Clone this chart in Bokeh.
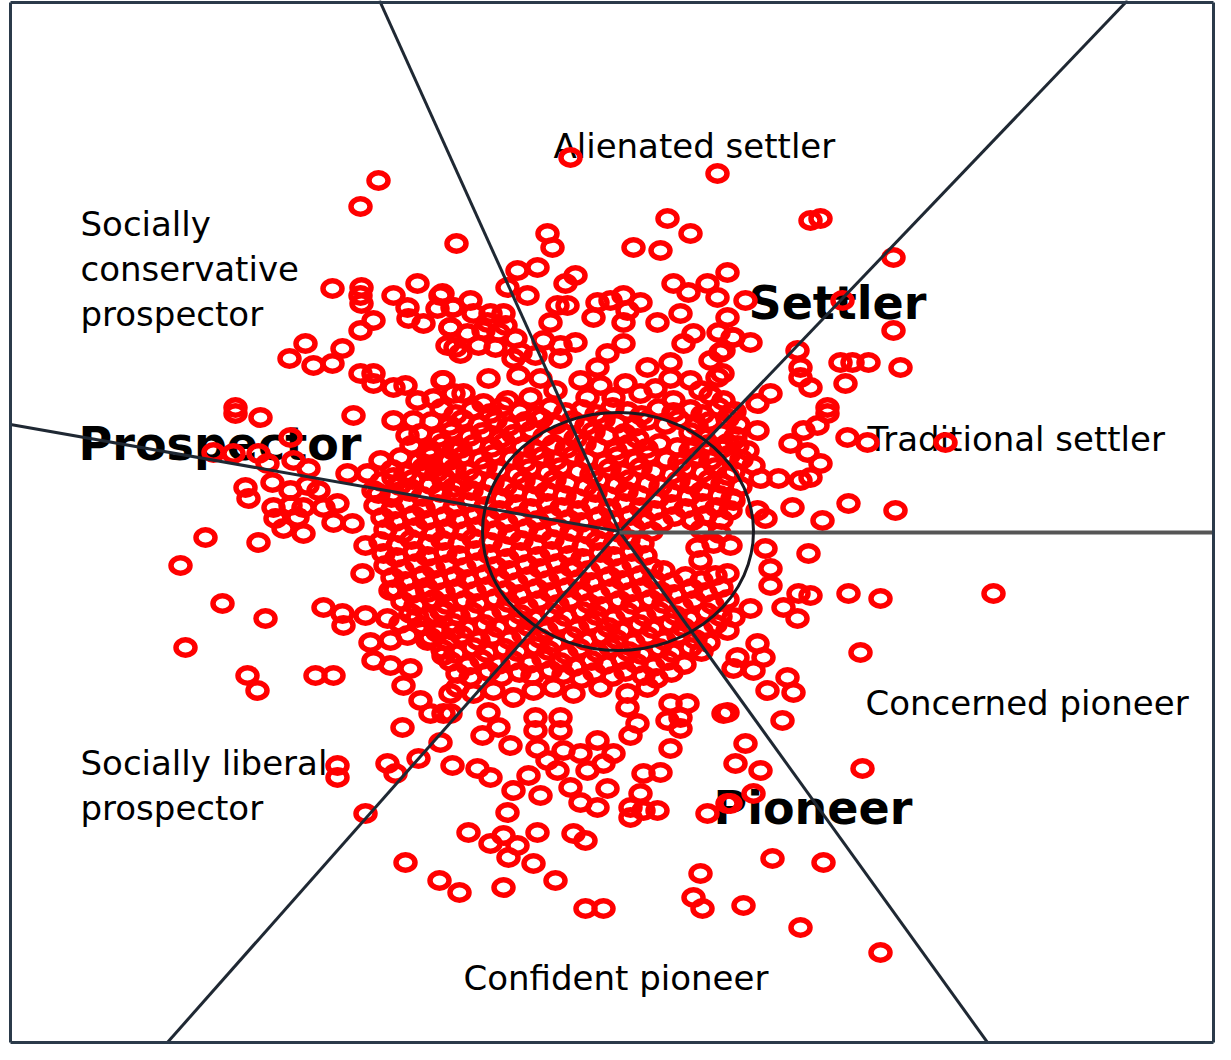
from bokeh.plotting import figure
from bokeh.models import Range1d
from bokeh.embed import file_html
from bokeh.resources import INLINE
from bokeh.core.properties import value

# ---------------- data (image-pixel coordinates, y downward) ----------------
top_pts = [(378,180),(360,206),(456,243),(570,157),(717,173),(667,218),(690,233),(633,247),
           (660,250),(547,233),(552,247),(810,220),(820,218),(893,257)]

upper_pts = [(332,288),(361,287),(360,295),(361,303),(393,295),(417,283),(407,307),(423,323),
             (408,318),(442,293),(437,308),(452,307),(450,327),(455,347),(360,330),(373,320),
             (305,343),(289,358),(313,365),(332,363),(342,348),(360,373),(373,373),(373,383),
             (393,387),(405,385),(417,400),(442,380),(433,398),(453,393),(235,407),
             (517,270),(537,267),(575,275),(565,283),(507,287),(527,295),(673,283),(688,292),
             (707,283),(727,272),(717,297),(440,295),(453,307),(473,313),(490,313),(503,313),
             (450,327),(467,333),(483,330),(498,332),(460,353),(515,338),(557,305),(567,305),
             (550,322),(597,302),(610,300),(623,295),(640,302),(593,317),(627,310),(623,322),
             (657,322),(680,313),(693,333),(683,343),(727,317),(718,332),(733,337),(720,352),
             (710,360),(717,377),(543,340),(560,345),(575,342),(623,343),(607,353),(597,367),
             (513,358),(518,375),(560,358),(488,378),(443,380),(647,367),(670,362),(670,378),
             (463,393),(483,403),(507,400),(530,397),(580,380),(587,397),(613,397),(640,393),
             (673,400),(700,390),(723,400),(470,300),(487,322),(505,325),(478,345),(495,347),
             (520,352),(447,345),(535,355),(555,390),(600,385),(625,383),(655,388),(690,380),
             (710,395),(540,378),
             (745,300),(842,300),(732,337),(750,342),(723,350),(893,330),(797,350),(800,367),
             (800,377),(810,387),(840,362),(852,362),(868,362),(845,383),(900,367),(770,393),
             (757,403),(827,407),(722,373)]

left_pts = [(235,413),(260,417),(290,437),(353,415),(213,452),(233,453),(258,453),(267,463),
            (293,460),(308,468),(245,487),(248,498),(272,482),(290,490),(307,485),(318,490),
            (273,507),(290,505),(303,507),(323,507),(337,503),(275,518),(297,517),(283,528),
            (303,533),(333,522),(352,523),(205,537),(258,542),(180,565),(365,545),(362,573),
            (222,603),(265,618),(185,647),(323,607),(342,613),(343,625),(365,615),(387,618),
            (400,623),(417,617),(370,642),(390,640),(407,635),(373,660),(390,665),(410,668),
            (427,640),(437,632),(443,655),(247,675),(315,675),(333,675),(393,420),(407,435),
            (413,420),(347,473),(367,473),(380,460),(393,477),(410,488),(373,490),(393,493),
            (427,453),(443,460),(453,450),(427,470),(443,477),(453,487),(390,590),(427,592),
            (443,610),(453,630)]

core_pts = [
    (441,408),(455,414),(472,409),(490,413),(502,406),(519,411),(536,415),(550,407),(565,412),(582,409),
    (596,414),(612,407),(627,411),(641,415),(658,408),(673,412),(690,409),(702,414),(718,407),(734,411),
    (431,421),(449,425),(462,419),(479,424),(495,420),(508,426),(525,421),(541,418),(555,424),(572,420),
    (586,425),(603,419),(616,423),(634,426),(647,420),(665,424),(678,419),(696,425),(709,421),(727,418),(738,424),
    (420,433),(438,437),(451,431),(469,436),(482,432),(500,438),(513,434),(531,430),(544,436),(562,433),
    (575,438),(593,431),(606,435),(624,433),(637,438),(690,432),(703,437),(721,433),(735,436),
    (411,445),(429,449),(442,443),(460,448),(473,444),(491,447),(504,442),(522,446),(535,450),(553,444),
    (566,448),(584,443),(597,447),(615,450),(628,444),(646,448),(659,443),(677,447),(690,450),(708,444),(721,448),(737,445),
    (400,457),(418,461),(431,455),(449,460),(462,456),(480,459),(493,454),(511,458),(524,462),(542,456),
    (555,460),(573,455),(586,459),(604,462),(617,456),(635,460),(648,455),(666,459),(679,462),(697,456),(710,460),(728,455),(741,459),
    (392,469),(405,473),(423,467),(436,472),(454,468),(467,471),(485,466),(498,470),(516,474),(529,468),
    (547,472),(560,467),(578,471),(591,474),(609,468),(622,472),(640,467),(653,471),(671,474),(684,468),(702,472),(715,467),(733,471),
    (381,481),(399,485),(412,479),(430,484),(443,480),(461,483),(474,478),(492,482),(505,486),(523,480),
    (536,484),(554,479),(567,483),(585,486),(598,480),(616,484),(629,479),(647,483),(660,486),(678,480),(691,484),(709,479),(722,483),(740,486),
    (378,493),(391,497),(409,491),(422,496),(440,492),(453,495),(471,490),(484,494),(502,498),(515,492),
    (533,496),(546,491),(564,495),(577,498),(595,492),(608,496),(626,491),(639,495),(657,498),(670,492),(688,496),(701,491),(719,495),(732,498),
    (375,505),(392,509),(406,503),(423,508),(437,504),(454,507),(468,502),(485,506),(499,510),(516,504),
    (530,508),(547,503),(561,507),(578,510),(592,504),(609,508),(623,503),(640,507),(654,510),(671,504),(685,508),(702,503),(716,507),(730,510),
    (382,517),(395,521),(413,515),(426,520),(444,516),(457,519),(475,514),(488,518),(506,522),(519,516),
    (537,520),(550,515),(568,519),(581,522),(599,516),(612,520),(630,515),(643,519),(661,522),(674,516),(692,520),(705,515),(721,519),
    (385,529),(402,533),(416,527),(433,532),(447,528),(464,531),(478,526),(495,530),(509,534),(526,528),
    (540,532),(557,527),(571,531),(588,534),(602,528),(619,532),(633,527),(651,531),(701,529),(719,533),
    (380,541),(397,545),(411,539),(428,544),(442,540),(459,543),(473,538),(490,542),(504,546),(521,540),
    (535,544),(552,539),(566,543),(583,546),(597,540),(614,544),(628,539),(642,543),
    (383,553),(396,557),(414,551),(427,556),(445,552),(458,555),(476,550),(489,554),(507,558),(520,552),
    (538,556),(551,551),(569,555),(582,558),(600,552),(613,556),(631,551),(645,555),
    (385,565),(402,569),(416,563),(433,568),(447,564),(464,567),(478,562),(495,566),(509,570),(526,564),
    (540,568),(557,563),(571,567),(588,570),(602,564),(619,568),(633,563),(651,567),(663,570),
    (392,577),(405,581),(423,575),(436,580),(454,576),(467,579),(485,574),(498,578),(516,582),(529,576),
    (547,580),(560,575),(578,579),(591,582),(609,576),(622,580),(640,575),(653,579),(671,582),(685,576),(701,580),
    (395,589),(412,593),(426,587),(443,592),(457,588),(474,591),(488,586),(505,590),(519,594),(536,588),
    (550,592),(567,587),(581,591),(598,594),(612,588),(629,592),(643,587),(660,591),(674,594),(691,588),(705,592),(721,587),
    (402,601),(415,605),(433,599),(446,604),(464,600),(477,603),(495,598),(508,602),(526,606),(539,600),
    (557,604),(570,599),(588,603),(601,606),(619,600),(632,604),(650,599),(663,603),(681,606),(694,600),(712,604),(727,599),
    (410,613),(427,617),(441,611),(458,616),(472,612),(489,615),(503,610),(520,614),(534,618),(551,612),
    (565,616),(582,611),(596,615),(613,618),(627,612),(644,616),(658,611),(675,615),(689,618),(706,612),(720,616),
    (422,625),(435,629),(453,623),(466,628),(484,624),(497,627),(515,622),(528,626),(546,630),(559,624),
    (577,628),(590,623),(608,627),(621,630),(639,624),(652,628),(670,623),(683,627),(701,630),(715,624),
    (430,637),(447,641),(461,635),(478,640),(492,636),(509,639),(523,634),(540,638),(554,642),(571,636),
    (585,640),(602,635),(616,639),(633,642),(647,636),(664,640),(678,635),(695,639),(708,642),
    (442,649),(455,653),(473,647),(486,652),(504,648),(517,651),(535,646),(548,650),(566,654),(579,648),
    (597,652),(610,647),(628,651),(641,654),(659,648),(672,652),(690,647),(701,651),
    (450,661),(467,665),(481,659),(498,664),(512,660),(529,663),(543,658),(560,662),(574,666),(591,660),
    (605,664),(622,659),(636,663),(653,666),(667,660),(684,664),
    (457,673),(470,677),(488,671),(501,676),(519,672),(532,675),(550,670),(563,674),(581,678),(594,672),
    (612,676),(625,671),(643,675),(656,678),(671,672)]

right_pts = [(827,413),(817,425),(803,430),(847,437),(867,442),(945,442),(757,430),(730,413),
             (790,443),(807,452),(820,463),(727,443),(747,450),(753,465),(760,478),(778,478),
             (800,480),(810,477),(727,475),(733,500),(757,510),(765,518),(792,507),(822,520),
             (848,503),(895,510),(730,545),(765,548),(808,553),(727,573),(770,568),(770,585),
             (798,593),(810,595),(783,607),(797,618),(848,593),(880,598),(993,593),(750,608),
             (733,617),(727,630),(860,652),(757,643),(737,657),(763,657),(733,668),(753,670),
             (787,677),(697,547),(713,543),(700,560),(715,575)]

bottom_pts = [(457,687),(473,693),(493,690),(513,697),(533,690),(553,687),(573,693),(600,687),
              (627,693),(647,687),(488,712),(498,727),(482,735),(450,713),(535,717),(535,730),
              (560,717),(560,730),(510,745),(537,748),(440,742),(627,707),(637,723),(630,735),
              (670,703),(687,703),(680,717),(667,720),(680,728),(723,713),(670,748),(547,760),
              (563,750),(580,753),(597,740),(603,763),(613,753),(452,765),(477,768),(490,777),
              (528,775),(557,770),(587,770),(513,790),(540,795),(570,787),(607,788),(643,773),
              (660,772),(640,793),(580,802),(597,807),(630,807),(630,817),(643,810),(657,810),
              (507,812),(707,813),(730,803),(468,832),(490,843),(503,835),(517,845),(537,832),
              (508,857),(533,863),(573,833),(585,840),(555,880),(503,887),(439,880),(459,892),
              (585,908),(603,908),(700,873),(693,897),(702,908),(743,905),
              (257,690),(403,685),(420,700),(430,713),(443,713),(450,693),(402,727),(418,758),
              (387,763),(395,773),(337,765),(337,777),(365,813),(405,862),
              (767,690),(793,692),(727,712),(782,720),(745,743),(735,763),(760,770),(862,768),
              (727,803),(753,793),(772,858),(823,862),(800,927),(880,952)]

# segment labels
label_text = ["Alienated settler", "Socially", "conservative", "prospector",
              "Traditional settler", "Concerned pioneer", "Socially liberal",
              "prospector", "Confident pioneer"]
label_x = [553, 80, 80, 80, 867, 865, 80, 80, 463]
label_y = [145, 223, 268, 313, 438, 702, 762, 807, 977]

# group labels
group_text = ["Settler", "Prospector", "Pioneer"]
group_x = [748, 78, 713]
group_y = [302, 443, 807]

# dividing rays from the centre
center = (619, 531)
ray_end_x = [379, 1127, 1000, 151, 10]
ray_end_y = [0, 0, 1060, 1060, 424]
hline_end = (1231, 532)
ellipse_c = (617.5, 531)
ellipse_w, ellipse_h = 271, 238

# ---------------- figure ----------------
FW, FH = 1215, 1044
p = figure(width=FW, height=FH, output_backend="svg", toolbar_location=None,
           x_range=Range1d(0, FW), y_range=Range1d(FH, 0),
           x_axis_location=None, y_axis_location=None, min_border=0,
           outline_line_color=None, background_fill_color="white")
p.grid.visible = False

font = value("DejaVu Sans")
p.text(x=label_x, y=label_y, text=label_text, text_font=font,
       text_font_size=value("34px"), text_color="black",
       text_align="left", text_baseline="alphabetic")
p.text(x=group_x, y=group_y, text=group_text, text_font=font,
       text_font_size=value("46px"), text_font_style="bold", text_color="black",
       text_align="left", text_baseline="alphabetic")

pts = top_pts + upper_pts + left_pts + core_pts + right_pts + bottom_pts
px = [a for a, b in pts]
py = [b for a, b in pts]
p.ellipse(x=px, y=py, width=19, height=15.5, fill_color=None,
          line_color="#ff0000", line_width=5.5)

p.segment(x0=[center[0]] * len(ray_end_x), y0=[center[1]] * len(ray_end_y),
          x1=ray_end_x, y1=ray_end_y, line_color="#1f2833", line_width=3)
p.segment(x0=[center[0]], y0=[hline_end[1]], x1=[hline_end[0]], y1=[hline_end[1]],
          line_color="#555555", line_width=4)
p.ellipse(x=[ellipse_c[0]], y=[ellipse_c[1]], width=ellipse_w, height=ellipse_h,
          fill_color=None, line_color="#1a1a22", line_width=3)

# frame
p.segment(x0=[10, 10, FW - 2, 10], y0=[2, FH - 2, 2, 2], x1=[10, FW - 2, FW - 2, FW - 2],
          y1=[FH - 2, FH - 2, FH - 2, 2], line_color="#2b3a4a", line_width=3)

open("out.html", "w").write(file_html(p, INLINE))
